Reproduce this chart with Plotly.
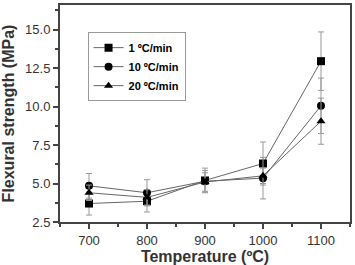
import plotly.graph_objects as go

temps = [700, 800, 900, 1000, 1100]
names = ["1 ºC/min", "10 ºC/min", "20 ºC/min"]
s1 = [3.7, 3.85, 5.2, 6.3, 12.95]
e1 = [0.75, 0.7, 0.8, 1.4, 1.9]
s10 = [4.85, 4.4, 5.15, 5.35, 10.05]
e10 = [0.8, 0.85, 0.7, 1.35, 1.8]
s20 = [4.4, 4.1, 5.1, 5.5, 9.05]
e20 = [0.5, 0.5, 0.6, 0.5, 1.5]
symbols = ["square", "circle", "triangle-up"]

fig = go.Figure()
for n, y, e, sym in zip(names, [s1, s10, s20], [e1, e10, e20], symbols):
    fig.add_trace(go.Scatter(
        x=temps, y=y, name="<b>" + n + "</b>", mode="lines+markers",
        line=dict(color="#666666", width=1),
        marker=dict(symbol=sym, size=8, color="black"),
        error_y=dict(type="data", array=e, visible=True, color="#999999", thickness=1, width=3),
    ))

axis_common = dict(
    showline=True, linecolor="#444444", linewidth=2, mirror=True,
    ticks="outside", ticklen=5, tickcolor="#444444", tickwidth=1.5,
    showgrid=False, zeroline=False,
    tickfont=dict(family="Liberation Sans, Arial", size=13, color="#333333"),
)

fig.update_layout(
    width=355, height=265,
    margin=dict(l=60, r=3, t=5, b=43),
    plot_bgcolor="white", paper_bgcolor="white",
    xaxis=dict(range=[650, 1150], tickvals=temps, ticktext=[str(t) for t in temps],
               minor=dict(ticks="outside", dtick=50, tick0=650, ticklen=3, tickcolor="#444444"),
               title=dict(text="<b>Temperature (ºC)</b>", standoff=3,
                          font=dict(family="Liberation Sans, Arial", size=16, color="#333333")),
               **axis_common),
    yaxis=dict(range=[2.5, 16.6], tickvals=[2.5, 5.0, 7.5, 10.0, 12.5, 15.0],
               ticktext=["2.5", "5.0", "7.5", "10.0", "12.5", "15.0"],
               minor=dict(ticks="outside", dtick=1.25, tick0=2.5, ticklen=3, tickcolor="#444444"),
               title=dict(text="<b>Flexural strength (MPa)</b>", standoff=9,
                          font=dict(family="Liberation Sans, Arial", size=16, color="#333333")),
               **axis_common),
    legend=dict(x=0.095, y=0.875, xanchor="left", yanchor="top",
                bordercolor="#999999", borderwidth=1, bgcolor="white",
                font=dict(family="Liberation Sans, Arial", size=11, color="black"),
                tracegroupgap=0, itemwidth=30),
    showlegend=True,
)
fig.write_html("out.html")
